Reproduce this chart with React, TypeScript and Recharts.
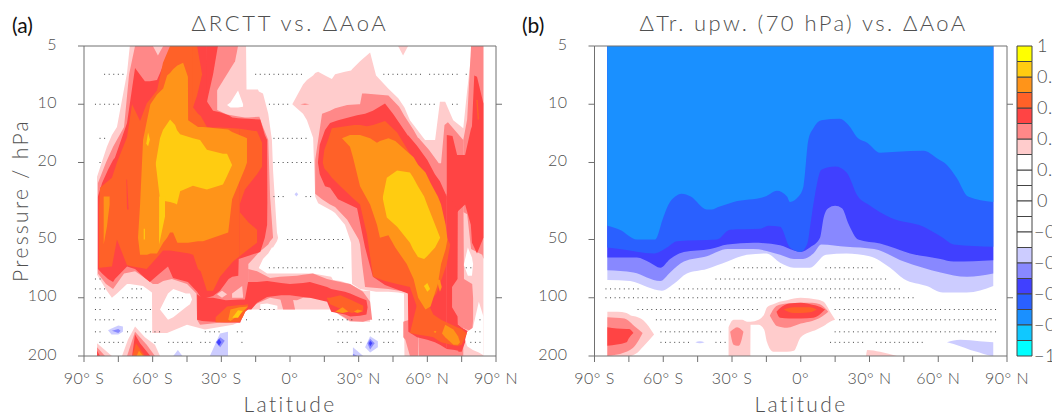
import { Area, Bar, BarChart, ComposedChart, Scatter, XAxis, YAxis } from "recharts";

type Row = [number, number, number];

const YELLOW = "#ffff00";
const GOLD = "#ffcc11";
const ORANGE = "#ff9419";
const DKORANGE = "#ff6128";
const RED = "#ff4444";
const SALMON = "#ff8888";
const PINK = "#ffcccc";
const WHITE = "#ffffff";
const LAVENDER = "#ccccff";
const PERI = "#8888ff";
const BLUE = "#4040ff";
const ROYAL = "#2a60ff";
const DODGER = "#1a90ff";
const SKY = "#10c8ff";
const CYAN = "#00ffff";

const latTicks = [-90, -75, -60, -45, -30, -15, 0, 15, 30, 45, 60, 75, 90];
const pressureTicks = [5, 10, 20, 50, 100, 200];
const sideTicks = [10, 100];
const barTicks = [-1, -0.8, -0.6, -0.4, -0.2, 0, 0.2, 0.4, 0.6, 0.8, 1];
const barUp = [WHITE, WHITE, WHITE, PINK, SALMON, RED, DKORANGE, ORANGE, GOLD, YELLOW];
const barDown = [WHITE, WHITE, WHITE, LAVENDER, PERI, BLUE, ROYAL, DODGER, SKY, CYAN];

// panel (a): each row is latitude, upper pressure, lower pressure
const aPinkSouth: Row[] = [
  [-84.3, 23.7, 76], [-80, 16.6, 92], [-77.8, 14.4, 100], [-75.6, 13.1, 95], [-71.2, 6.9, 85], [-70, 5, 85],
  [-64.2, 5, 87], [-60.3, 5, 94], [-60.2, 5, 152], [-53.7, 5, 152], [-45, 5, 138], [-37.2, 5, 146], [-24.9, 5, 138],
  [-21.8, 5, 133], [-19.7, 5, 118], [-19.2, 5, 115], [-19, 8.4, 115], [-14, 8.4, 115], [-13.6, 8.6, 70],
  [-11.8, 8.8, 63], [-9.5, 11.2, 59], [-7.9, 15.3, 55], [-7.4, 22, 55], [-5.7, 46, 51], [-5.2, 49, 49],
];
const aPinkBand: Row[] = [
  [-14, 70, 115], [-13, 71, 115], [-10, 75, 115], [10, 75, 115], [18, 78, 115], [18.8, 81, 116], [22, 82, 124],
  [26.2, 85, 133], [31.9, 92, 133], [35, 92, 133],
];
const aPinkNorth: Row[] = [
  [1, 10, 10], [5.7, 7.9, 11.2], [7.4, 7.5, 12.1], [10.1, 7.1, 14.9], [11, 6.9, 30], [12.3, 6.8, 32.5], [15.3, 7.1, 34],
  [18.3, 7.4, 35.5], [19.7, 7, 36.5], [24, 6.8, 42], [26.7, 6.7, 52], [27.1, 6.6, 85], [30.6, 6, 90], [35, 5.4, 92],
  [37.6, 7.1, 93], [42.9, 8.3, 93], [47.3, 9.3, 94], [49.8, 10.3, 95], [50, 10.4, 200], [52.4, 12.1, 200], [59, 15.3, 200],
  [63.4, 15.3, 200], [65.5, 9.7, 200], [67.8, 9.7, 200], [71.3, 12.1, 200], [75.7, 13.3, 200], [77.4, 8.5, 200],
  [79.6, 5, 200], [84.5, 5, 200],
];
const aPinkTip: Row[] = [[47.2, 5, 5], [49.4, 5, 5.6], [51.6, 5, 5]];
const aPinkPeak: Row[] = [[-73.4, 200, 200], [-70.8, 165, 200], [-67.7, 141, 200], [-63.4, 160, 200], [-59, 175, 200], [-56.8, 200, 200]];
const aPinkCorner: Row[] = [[-84.3, 172, 200], [-77.8, 200, 200]];
const aHoleTop: Row[] = [[-27.5, 10.1, 10.1], [-26, 9.8, 10.4], [-22.7, 8.5, 10.4], [-20.5, 10, 10.3]];
const aHoleMid: Row[] = [[-56.8, 115, 115], [-53.3, 95, 130], [-51, 90, 126], [-45.5, 95, 112], [-43.7, 95, 108], [-42.8, 102, 102]];
const aHoleBand: Row[] = [[-13, 108, 115], [-10, 107, 115], [-5.5, 110, 115]];
const aHoleGap: Row[] = [[76, 67, 68], [77.7, 55, 77], [79.5, 62, 77], [80, 67, 67]];
const aHoleRight: Row[] = [[76.5, 165, 165], [77.4, 150, 178], [79.9, 143, 186], [82.5, 105, 192], [84.5, 125, 198]];

const aSalmonSouth: Row[] = [
  [-83.9, 25.5, 75], [-80.4, 20, 85], [-77.3, 16.6, 90], [-72.5, 13.1, 75], [-70.3, 7, 74], [-67.7, 5, 73], [-64.2, 5, 78],
  [-59.9, 5, 85], [-57.7, 5.6, 85], [-55.4, 5, 82], [-51.6, 5, 80], [-45, 5, 85], [-40.9, 5, 95], [-40.6, 5, 130],
  [-39.3, 5, 138], [-31.9, 5, 135], [-31.8, 10.7, 135], [-27.5, 11.3, 135], [-21.8, 11.6, 135], [-19.7, 11.7, 118],
  [-18.3, 11.7, 115], [-18.2, 11.7, 67], [-13.4, 11.6, 58], [-11.8, 13.1, 56], [-9.5, 15.3, 53], [-8.7, 30, 51], [-7.4, 49, 49],
];
const aSalmonLobe: Row[] = [[-31.9, 5, 8.5], [-24, 5, 6], [-22.7, 5, 5]];
const aSalmonBand: Row[] = [
  [-18.3, 71, 115], [-14.4, 73, 107], [-8.7, 79, 100], [-4.4, 78, 102], [3, 77, 103], [5.7, 76, 100], [10, 75, 100],
  [16.2, 80, 102], [18, 81, 115], [24, 84, 127], [26.3, 85, 132], [31.9, 93, 133], [35, 105, 130], [35.9, 130, 130],
];
const aSalmonBandPatch: Row[] = [[-4.4, 100, 100], [-3, 100, 115], [1.3, 102, 115], [2.2, 115, 115]];
const aPinkPatch: Row[] = [[-25.3, 95, 100], [-20.9, 87, 100], [-20.5, 98, 100]];
const aPinkDiamond: Row[] = [[-31.9, 96, 96], [-29.7, 92, 100], [-27.5, 96, 96]];
const aSalmonPeak: Row[] = [[-71.2, 200, 200], [-67.7, 150, 200], [-62.6, 175, 200], [-59, 200, 200]];
const aSalmonCorner: Row[] = [[-84.3, 180, 200], [-80.8, 200, 200]];
const aSalmonNorth: Row[] = [
  [11, 19.4, 29], [14, 11.2, 31], [17.5, 10.8, 33], [19.7, 10.5, 34], [25, 10.1, 39.5], [30, 10, 50], [30.6, 10, 53],
  [31.5, 8.8, 67], [32.8, 8.8, 88], [43, 9, 90], [47.7, 10.3, 92], [50, 11.5, 92], [54, 13.6, 100], [55.9, 14.9, 126],
  [56.3, 15, 200], [60.7, 17.2, 200], [65, 20.2, 200], [66, 20.2, 200], [67.5, 12.8, 200], [69, 12.4, 200], [75.7, 15.3, 200],
];
const aSalmonStem: Row[] = [[49.5, 133, 160], [50.4, 132, 165], [52.4, 130, 200], [56, 126, 200]];
const aSalmonTower: Row[] = [[75.7, 15.3, 36], [77.4, 12, 37], [79.1, 5, 56], [84, 5, 60], [84.5, 5, 63]];
const aSalmonSpike: Row[] = [[4.5, 10, 10], [6.5, 9.9, 10.1], [8.5, 10, 10]];

const aRedSouth: Row[] = [
  [-83.9, 30, 71], [-82.1, 25.5, 75], [-79.5, 21.8, 80], [-77.3, 19.4, 83], [-76.5, 18.9, 80], [-71.2, 12.5, 69],
  [-67.7, 6.5, 71], [-63.4, 7.6, 79], [-61.2, 7.6, 83], [-58.1, 7.5, 77], [-54.6, 6, 71], [-53.3, 5.6, 69], [-51.1, 5, 79],
  [-44.6, 5, 83], [-40.6, 5, 93], [-38.4, 5, 102], [-36.3, 5, 100], [-36.2, 9.7, 100], [-33.6, 10.8, 98], [-30.6, 11, 92],
  [-26.8, 11.4, 80], [-25.2, 11.7, 78], [-22.6, 11.8, 77], [-22.4, 11.8, 63], [-13, 12, 58], [-11, 14.4, 49], [-10, 15.3, 42], [-9.9, 32, 32],
];
const aRedLobe: Row[] = [[-36.3, 5, 9.7], [-33.6, 5, 7], [-31.5, 5, 5]];
const aRedBand: Row[] = [
  [-40.6, 96, 130], [-38.4, 100, 132], [-33.6, 100, 133], [-28, 103, 134], [-21.8, 102, 134], [-19.7, 102, 118],
  [-18.3, 83, 115], [-16.9, 83, 115], [-14.4, 83, 106], [-10, 82, 99], [-3.9, 84, 97], [0, 85, 97], [5.7, 84, 99], [8.7, 83, 100],
  [16.2, 88, 105], [18, 90, 118], [24, 93, 122], [26.3, 95, 125], [30.6, 100, 124], [33.4, 103, 122], [33.9, 112, 112],
];
const aRedSliver: Row[] = [[-71.5, 24.5, 24.5], [-71.2, 24.5, 35], [-70.5, 35, 35]];
const aRedPeak: Row[] = [[-69, 200, 200], [-67.7, 155, 200], [-65.5, 172, 200], [-61, 200, 200]];
const aRedCorner: Row[] = [[-84.3, 188, 200], [-83, 200, 200]];
const aRedNorth: Row[] = [
  [12.2, 20, 20], [13, 16.2, 23], [15.3, 13.6, 26.5], [17.5, 12.5, 27], [21, 12.1, 31], [29.3, 11.4, 34.5], [32.8, 11.2, 55],
  [36.2, 10.8, 78], [41.5, 9.9, 86], [45, 11.2, 89], [51.5, 14.5, 95], [51.7, 14.5, 150], [55.5, 16.4, 160],
  [60, 19.4, 165], [63.3, 23, 170], [65.5, 25, 175], [68.5, 30, 184],
];
const aRedTower: Row[] = [
  [68.5, 14.4, 31], [71, 14.6, 33], [73, 18.3, 36], [76.5, 18.3, 33], [79, 13.5, 42], [79.5, 13, 52], [80.5, 7.1, 55],
  [81.7, 7.2, 59], [84.5, 9.9, 49],
];
const aRedLow: Row[] = [[68.5, 29, 184], [72, 33, 186], [73.5, 36, 188], [73.6, 138, 190], [75, 143, 190], [76.5, 146, 170], [78, 150, 150]];
const aSalmonRight: Row[] = [[70.8, 88, 112], [73.2, 80, 125], [73.3, 36, 138], [75.7, 36, 143], [76, 80, 144], [79.6, 85, 150], [80, 100, 130]];

const aOrangeDarkSouth: Row[] = [
  [-83.4, 35, 70], [-83, 27, 70], [-77.8, 24, 69], [-75.6, 20, 50], [-71.2, 14.8, 68], [-69, 10, 69], [-65.5, 12.2, 70],
  [-62.6, 9.9, 71], [-58.1, 8.5, 62], [-55.5, 6.1, 57], [-52.4, 5, 57], [-44, 5, 59], [-42.4, 5, 60], [-42.3, 10.4, 60],
  [-40.2, 11.2, 71], [-39, 11.5, 73], [-36.3, 13.1, 92], [-33.6, 13.2, 92], [-30.6, 13.2, 78], [-24.9, 13.3, 65], [-22, 13.4, 61],
];
const aOrangeDarkTop: Row[] = [[-42.4, 5, 10.4], [-40.6, 5, 9], [-38.4, 7, 7]];
const aOrangeDarkUpper: Row[] = [[-22, 13.4, 33], [-19.7, 13.5, 27.6], [-14.4, 13.8, 23], [-12.2, 15.8, 21]];
const aOrangeDarkLower: Row[] = [[-22, 36, 61], [-18, 41, 56], [-14.4, 44.5, 52]];
const aOrangeDarkLobe: Row[] = [[-32.5, 126, 134], [-27.5, 111, 134], [-22, 109, 133], [-20.5, 109, 125], [-18.3, 108, 110]];
const aOrangeDarkBand: Row[] = [[16, 100, 100], [17.5, 100, 108], [22, 97, 114], [27, 103, 120], [32, 110, 116]];
const aOrangeDarkPeak: Row[] = [[-68.6, 195, 200], [-67.3, 172, 200], [-63.4, 200, 200]];
const aOrangeDarkNorth: Row[] = [
  [14.3, 20, 20], [15, 17.2, 21.5], [16.6, 15.3, 22.5], [18.3, 13.3, 24], [22, 13.1, 26.5], [28, 12.8, 31], [30.6, 12.8, 33],
  [33.6, 13, 47], [36.3, 12.8, 78], [41.5, 12.2, 82], [46.8, 14, 85], [52.4, 18, 88], [55.5, 20.2, 112], [59.7, 23.5, 107],
  [62.5, 27.6, 100], [64, 33, 95], [65.5, 33, 85], [68.5, 49, 67], [70, 53, 53],
];
const aOrangeDarkLow: Row[] = [
  [52.4, 152, 152], [55.5, 108, 155], [60.5, 108, 158], [62.6, 122, 160], [66, 130, 170], [73, 142, 178], [75, 145, 175], [77.2, 153, 153],
];
const aOrangeDarkSliver: Row[] = [[81.4, 9.5, 9.5], [82, 9.5, 12], [82.6, 12, 12]];

const aOrangeSouth: Row[] = [
  [-66.4, 49, 49], [-65.5, 33, 60], [-64.2, 15.3, 60], [-62.4, 12, 60], [-61, 10, 59], [-58.1, 8.9, 59], [-55.4, 8.3, 52],
  [-53.7, 7.1, 49], [-52.4, 6.9, 46], [-51.1, 6.6, 46], [-49.2, 6.3, 52], [-46.7, 6.1, 52], [-44.6, 7.2, 52], [-44.5, 12.1, 52],
  [-40.2, 13.1, 51], [-38, 13.1, 51], [-27, 13.5, 46], [-25.3, 13.9, 31], [-19.7, 14.8, 21.5], [-18.8, 15, 20],
];
const aOrangeStrip: Row[] = [[-81.4, 30, 53], [-80, 30, 43], [-78.8, 30, 33]];
const aOrangeLobe: Row[] = [[-27, 130, 130], [-26, 115, 132], [-22, 112, 122], [-18.3, 111, 111]];
const aOrangeBandA: Row[] = [[19.7, 118, 118], [23, 112, 120], [25.5, 118, 118]];
const aOrangeBandB: Row[] = [[27.9, 118, 118], [29.5, 115, 120], [32, 117, 117]];
const aOrangePeak: Row[] = [[-67, 200, 200], [-66, 188, 200], [-64.2, 200, 200]];
const aOrangeNorth: Row[] = [
  [22.7, 15, 15], [26.2, 14.4, 16.6], [27.5, 14.4, 18.8], [30.6, 14.4, 26.5], [35, 15, 33], [38, 15.8, 42], [39.3, 15.5, 49],
  [43, 15, 47.5], [46, 15.5, 55], [51, 17.5, 67], [54, 18.8, 80], [56, 20.6, 100], [59.2, 22.5, 115], [61.4, 25.5, 111],
  [64.6, 30, 85], [66, 33, 67], [68, 42, 56], [68.8, 50, 50],
];
const aOrangeSpot: Row[] = [[64, 80, 80], [65.5, 81, 93], [66.3, 88, 88]];
const aOrangeLow: Row[] = [[66.4, 153, 153], [67.8, 138, 160], [71.4, 146, 175], [73.4, 158, 175], [74.3, 170, 170]];
const aOrangeDot: Row[] = [[62.8, 150, 150], [63.4, 148, 152], [64, 150, 150]];

const aGoldSouth: Row[] = [
  [-58.6, 20, 20.6], [-56.8, 15, 31], [-55.5, 13.6, 31.5], [-52.4, 12, 32], [-50.2, 12.8, 32.6], [-49.4, 13.6, 33],
  [-48, 14.3, 28.2], [-42.4, 15, 26.4], [-39.3, 15.3, 27], [-36.3, 17.2, 27.6], [-29.3, 18, 26], [-27.5, 18, 23.5], [-25.3, 20.6, 20.6],
];
const aGoldSliver: Row[] = [[-57.2, 30, 53], [-54.6, 30, 38]];
const aGoldThin: Row[] = [[-63.9, 44, 50], [-63.4, 44, 50]];
const aGoldDiamond: Row[] = [[-62.8, 16, 16], [-62, 14, 16.5], [-61.2, 15.2, 15.2]];
const aGoldLobe: Row[] = [[-25.2, 127, 127], [-22.7, 116, 127], [-20.7, 117, 117]];
const aGoldNorth: Row[] = [
  [40.6, 30, 31], [42.3, 24, 38.5], [46.8, 22, 43], [52.4, 22.5, 52], [53.7, 23.8, 56], [55.9, 26.5, 61.5], [58.6, 30, 63],
  [59.9, 33, 61], [63.4, 42, 55], [65.6, 49, 49],
];
const aGoldSpot: Row[] = [[58.5, 87, 87], [60, 84, 93], [61.2, 90, 90]];

const aLavA: Row[] = [[-79.5, 147, 147], [-78, 144, 155], [-75, 139, 155], [-73, 141, 150]];
const aPeriA: Row[] = [[-77.8, 148, 148], [-75, 145, 152], [-74, 148, 148]];
const aLavB: Row[] = [[-51, 200, 200], [-49, 186, 200], [-47, 200, 200]];
const aLavC: Row[] = [[-35, 200, 200], [-32.8, 175, 200], [-30.6, 153, 200], [-27.1, 150, 200]];
const aPeriC: Row[] = [[-32.5, 170, 170], [-30.5, 160, 180], [-28.5, 167, 167]];
const aBlueC: Row[] = [[-32, 170, 170], [-31, 163, 177], [-30, 170, 170]];
const aLavD: Row[] = [[32.8, 180, 180], [35, 158, 192], [38.4, 168, 180]];
const aPeriD: Row[] = [[33.8, 172, 172], [35, 163, 185], [37, 172, 172]];
const aBlueD: Row[] = [[34.5, 172, 172], [35, 167, 178], [36, 172, 172]];
const aLavE: Row[] = [[27.5, 180, 200], [32, 200, 200]];
const aPeriE: Row[] = [[27.5, 195, 200], [29.5, 200, 200]];
const aLavTiny: Row[] = [[2, 29.2, 29.2], [2.8, 28.5, 30], [3.6, 29.2, 29.2]];

// panel (b)
const bLavender: Row[] = [
  [-84.4, 5, 81], [-74.4, 5, 82], [-67, 5, 88], [-60.6, 5, 92], [-55.5, 5, 85], [-49.7, 5, 75], [-41, 5, 71], [-32, 5, 65],
  [-23.5, 5, 60], [-15, 5, 59], [-9, 5, 66], [-3, 5, 70], [4, 5, 70], [11, 5, 60], [20, 5, 59], [30, 5, 61], [39, 5, 70],
  [45, 5, 80], [55, 5, 87], [62, 5, 94], [72.5, 5, 94], [84, 5, 87],
];
const bPeri: Row[] = [
  [-84.4, 5, 72], [-73, 5, 74], [-61.3, 5, 82], [-57, 5, 74], [-51, 5, 65], [-41, 5, 61], [-32, 5, 56], [-20.6, 5, 56],
  [-9, 5, 60], [-3, 5, 63], [1, 5, 63], [5.5, 5, 59], [9, 5, 53], [20, 5, 54.5], [32, 5, 56], [45, 5, 65], [61, 5, 74],
  [72.5, 5, 78], [84, 5, 75],
];
const bBlue: Row[] = [
  [-84.4, 5, 62], [-71.5, 5, 62], [-65.7, 5, 66], [-61.3, 5, 70], [-57, 5, 63], [-51, 5, 58], [-39.5, 5, 56], [-32, 5, 53],
  [-20.6, 5, 52], [-9, 5, 53.5], [-3, 5, 57], [0, 5, 58], [4, 5, 55], [8.4, 5, 49], [10, 5, 38.5], [12, 5, 34.5], [15, 5, 33.5],
  [18, 5, 34.5], [21, 5, 42], [25, 5, 50], [34.6, 5, 52.5], [47.7, 5, 59], [61, 5, 63], [66.7, 5, 65], [84, 5, 64],
];
const bRoyal: Row[] = [
  [-84.4, 5, 55], [-79, 5, 56], [-64, 5, 59], [-58.4, 5, 55], [-54, 5, 51], [-36.6, 5, 50], [-30.8, 5, 44.5], [-17.7, 5, 44],
  [-14, 5, 42.5], [-9, 5, 43], [-4.7, 5, 55], [0, 5, 58], [3, 5, 52], [4, 5, 43.5], [5.5, 5, 33], [6.5, 5, 28], [9, 5, 21.8],
  [15, 5, 21], [20, 5, 22.5], [25, 5, 30], [29.5, 5, 33], [39, 5, 38.5], [53.6, 5, 43], [62, 5, 49], [66.7, 5, 53], [84, 5, 54.5],
];
const bDodger: Row[] = [
  [-84.4, 5, 42.5], [-79, 5, 44.5], [-71.5, 5, 50], [-63.5, 5, 50], [-60, 5, 38.5], [-57.7, 5, 33], [-54.8, 5, 30], [-52, 5, 29],
  [-48, 5, 30], [-41, 5, 35], [-38.8, 5, 35], [-36, 5, 34], [-29.3, 5, 32], [-15.5, 5, 30], [-10.4, 5, 28], [-6, 5, 30],
  [-4.7, 5, 32], [-1, 5, 30], [1.2, 5, 26.5], [3.3, 5, 15.3], [5.5, 5, 13.3], [9, 5, 12.1], [17, 5, 11.9], [20.8, 5, 12.8],
  [25, 5, 15], [29, 5, 15.8], [34.6, 5, 17.8], [42, 5, 17.6], [53.6, 5, 17.4], [59.4, 5, 19], [63.8, 5, 20.6], [68, 5, 24],
  [73, 5, 30], [84, 5, 32],
];
const bPinkLeft: Row[] = [
  [-84.4, 118, 200], [-80, 118, 200], [-76, 120, 200], [-74.4, 123, 200], [-72, 125, 195], [-68.6, 131, 178], [-64, 155, 155],
];
const bSalmonLeft: Row[] = [
  [-84.4, 126, 200], [-77, 128, 192], [-72, 142, 175], [-69, 152, 152],
];
const bRedLeft: Row[] = [[-84.4, 142, 177], [-76, 145, 170], [-75, 145, 162], [-73, 152, 152]];
const bPinkMid: Row[] = [
  [-31.5, 142, 200], [-29.3, 130, 200], [-25.6, 130, 200], [-23.5, 133, 200], [-22, 133, 200], [-21.9, 133, 138], [-18.4, 130, 138],
  [-16, 122, 146], [-14.7, 112, 170], [-12, 108, 190], [-10.4, 106, 190], [-6, 103, 190], [-3, 101, 188], [0, 100, 160],
  [7, 102, 146], [10, 105, 140], [12.8, 118, 133], [15, 130, 130],
];
const bSalmonSpot: Row[] = [[-30.8, 150, 150], [-29.3, 145, 175], [-27.8, 142, 177], [-27, 143, 177], [-25, 150, 150]];
const bSalmonMid: Row[] = [
  [-13.5, 124, 124], [-12, 115, 133], [-10.4, 110, 140], [-6, 107, 143], [0, 106, 136], [5, 106, 132], [8.4, 108, 127], [12, 118, 118],
];
const bRedMid: Row[] = [[-10.6, 118, 118], [-9, 113, 127], [-5, 107, 128], [0, 106, 128], [5.5, 109, 127], [7, 110, 125], [10.6, 115, 115]];
const bOrangeMid: Row[] = [[-7.5, 115, 115], [-3, 112, 120], [0, 112, 120], [4, 112, 119], [7, 115, 115]];
const bPinkNorth: Row[] = [[28.5, 200, 200], [29, 186, 200], [34.6, 190, 200], [42, 200, 200]];
const bLavNorth: Row[] = [[63.8, 170, 170], [69.6, 165, 178], [74, 166, 186], [78, 168, 192], [81, 169, 197], [84, 170, 200]];
const bLavTiny: Row[] = [[-46, 170, 170], [-44, 168, 172], [-42, 170, 170]];

const B = "          ";

const aDotPressures = [7, 10, 15, 20, 30, 50, 70, 80, 90, 100, 115, 130, 150, 170];
const aDotMasks = [
  ["    ..... ", B, B, "       ...", "........  ", B, "     .....", ".... .....", ".. .      "],
  ["  ......  ", B, B, B, ".....     ", B, B, " ......   ", "..        "],
  ["   ..     ", B, B, B, " ........ ", B, B, B, B],
  ["   .      ", B, B, B, " .........", B, B, B, B],
  [B, B, B, B, " ...    ..", B, B, B, B],
  [B, B, B, B, "    ......", ".......   ", B, B, B],
  [B, B, B, B, "..........", ".......   ", B, B, "   ..     "],
  ["  ..      ", B, B, B, B, B, B, B, B],
  ["  ...     ", "...       ", B, B, B, B, B, B, B],
  ["  ...   ..", "...      .", "..        ", B, B, B, B, B, B],
  ["  ..  ..  ", ".....   ..", ".         ", "        ..", "..        ", B, "      .   ", B, B],
  ["  .....   ", "....      ", B, "     .    ", B, "   ...... ", "    ....  ", B, "      .   "],
  ["  ..     .", "   ....   ", "      ....", "   ..     ", B, "     .....", "  ....... ", B, "     ..   "],
  ["   ...... ", "     .  ..", ".... ...  ", "    .     ", B, "     ... .", ".    ...  ", B, "    ...   "],
];

const bDotPressures = [70, 80, 90, 100, 115, 130, 150, 170];
const bDotMasks = [
  [B, B, B, "..........", ".         ", "..........", ".         ", B, B],
  [B, B, "      ....", "..........", "..........", "..........", "....      ", B, B],
  ["  ........", "        ..", "..........", "..........", "..........", "..........", ".......   ", B, B],
  ["  ........", "..... ....", "..........", "..........", ".         ", " .........", "..........", B, B],
  ["         .", "..........", "..........", "......    ", B, "  ........", "..........", "..........", "........  "],
  [B, "   .......", "......... ", B, B, "   .......", "..........", "..........", "........  "],
  [B, "    ......", "........  ", B, B, "  ........", "..........", "..........", "........  "],
  [B, "    ......", ".     ... ", B, B, " ........ ", " .........", "..        ", B],
];

const aLayers: [string, Row[]][] = [
  [PINK, aPinkSouth], [PINK, aPinkBand], [PINK, aPinkNorth], [PINK, aPinkTip], [PINK, aPinkPeak], [PINK, aPinkCorner],
  [WHITE, aHoleTop], [WHITE, aHoleMid], [WHITE, aHoleBand],
  [LAVENDER, aLavA], [PERI, aPeriA], [LAVENDER, aLavB], [LAVENDER, aLavC], [PERI, aPeriC], [BLUE, aBlueC],
  [LAVENDER, aLavD], [PERI, aPeriD], [BLUE, aBlueD], [LAVENDER, aLavE], [PERI, aPeriE], [LAVENDER, aLavTiny],
  [SALMON, aSalmonSouth], [SALMON, aSalmonLobe], [SALMON, aSalmonBand], [SALMON, aSalmonBandPatch], [SALMON, aSalmonPeak],
  [SALMON, aSalmonCorner], [SALMON, aSalmonNorth], [SALMON, aSalmonStem], [SALMON, aSalmonTower], [SALMON, aSalmonSpike],
  [PINK, aPinkPatch], [PINK, aPinkDiamond],
  [RED, aRedSouth], [RED, aRedLobe], [RED, aRedBand], [RED, aRedPeak], [RED, aRedCorner], [RED, aRedNorth], [RED, aRedTower], [RED, aRedLow],
  [SALMON, aSalmonRight], [WHITE, aHoleGap], [WHITE, aHoleRight],
  [DKORANGE, aOrangeDarkSouth], [DKORANGE, aOrangeDarkTop], [DKORANGE, aOrangeDarkUpper], [DKORANGE, aOrangeDarkLower],
  [DKORANGE, aOrangeDarkLobe], [DKORANGE, aOrangeDarkBand], [DKORANGE, aOrangeDarkPeak], [DKORANGE, aOrangeDarkNorth],
  [DKORANGE, aOrangeDarkLow], [DKORANGE, aOrangeDarkSliver], [RED, aRedSliver],
  [ORANGE, aOrangeSouth], [ORANGE, aOrangeStrip], [ORANGE, aOrangeLobe], [ORANGE, aOrangeBandA], [ORANGE, aOrangeBandB],
  [ORANGE, aOrangePeak], [ORANGE, aOrangeNorth], [ORANGE, aOrangeSpot], [ORANGE, aOrangeLow], [ORANGE, aOrangeDot],
  [GOLD, aGoldSouth], [GOLD, aGoldSliver], [GOLD, aGoldThin], [GOLD, aGoldDiamond], [GOLD, aGoldLobe], [GOLD, aGoldNorth], [GOLD, aGoldSpot],
];

const bLayers: [string, Row[]][] = [
  [LAVENDER, bLavender], [PERI, bPeri], [BLUE, bBlue], [ROYAL, bRoyal], [DODGER, bDodger],
  [PINK, bPinkLeft], [SALMON, bSalmonLeft], [RED, bRedLeft],
  [PINK, bPinkMid], [SALMON, bSalmonSpot], [SALMON, bSalmonMid], [RED, bRedMid], [DKORANGE, bOrangeMid],
  [PINK, bPinkNorth], [LAVENDER, bLavNorth], [LAVENDER, bLavTiny],
];

const FONT = "Lato, 'Open Sans', sans-serif";
const INK = "#505050";
const AXIS = "#707070";

function dotsFrom(pressures: number[], masks: string[][]) {
  const out: { lat: number; p: number }[] = [];
  masks.forEach((groups, r) => {
    groups.join("").split("").forEach((c, i) => {
      if (c === ".") out.push({ lat: -89 + 2 * i, p: pressures[r] });
    });
  });
  return out;
}

function latLabel(lat: number) {
  if (lat % 30 !== 0) return "";
  if (lat === 0) return "0°";
  return lat < 0 ? `${-lat}° S` : `${lat}° N`;
}

const tickStyle = { fontFamily: FONT, fontSize: 16, fontWeight: 300, fill: INK, letterSpacing: 0.5 };

function BarTick({ x, y, payload }: any) {
  const v = payload.value;
  return (
    <text x={v < 0 ? x - 7 : x - 4} y={y} dy={6} style={{ ...tickStyle, fontSize: 18 }}>
      {String(v).replace("-", "\u2212")}
    </text>
  );
}

function Panel({ layers, dots, width, left, right, curve }: any) {
  return (
    <ComposedChart width={width} height={416} margin={{ top: 30, right, bottom: 20, left }}>
      <XAxis xAxisId={0} dataKey="lat" type="number" domain={[-90, 90]} ticks={latTicks} interval={0} tickFormatter={latLabel}
        tick={tickStyle} tickSize={6} tickMargin={11} stroke={AXIS} height={40} allowDataOverflow />
      <XAxis xAxisId="top" orientation="top" type="number" domain={[-90, 90]} ticks={latTicks} interval={0} tickFormatter={() => ""}
        tickSize={6} stroke={AXIS} height={16} allowDataOverflow />
      <YAxis yAxisId={0} dataKey="p" type="number" scale="log" domain={[5, 200]} reversed ticks={pressureTicks} interval={0}
        tick={{ ...tickStyle, dy: -2 }} tickSize={6} tickMargin={21} stroke={AXIS} width={50} allowDataOverflow />
      <YAxis yAxisId="side" orientation="right" type="number" scale="log" domain={[5, 200]} reversed ticks={sideTicks} interval={0}
        tickFormatter={() => ""} tickSize={6} stroke={AXIS} width={20} allowDataOverflow />
      {layers.map(([color, rows]: [string, Row[]], i: number) => (
        <Area key={i} data={rows.map(([lat, top, bottom]) => ({ lat, range: [top, bottom] }))} dataKey="range" type={curve}
          fill={color} fillOpacity={1} stroke="none" dot={false} activeDot={false} isAnimationActive={false} />
      ))}
      <Scatter data={dots} fill="#444" isAnimationActive={false}
        shape={(s: any) => <rect x={s.cx - 0.5} y={s.cy - 0.5} width={1} height={1} fill="#444" />} />
    </ComposedChart>
  );
}

function ColorBar() {
  const row: Record<string, number | string> = { name: "scale" };
  barUp.forEach((_, i) => { row[`u${i}`] = 0.1; });
  barDown.forEach((_, i) => { row[`d${i}`] = -0.1; });
  return (
    <BarChart width={52} height={416} data={[row]} stackOffset="sign" barCategoryGap={0} margin={{ top: 46, right: 0, bottom: 60, left: 17 }}>
      <XAxis dataKey="name" hide />
      <YAxis orientation="right" type="number" domain={[-1, 1]} ticks={barTicks} interval={0} axisLine={false} tickLine={false}
        tickMargin={3} width={20} tick={<BarTick />} />
      {barUp.map((c, i) => (
        <Bar key={`u${i}`} dataKey={`u${i}`} stackId="s" fill={c} stroke="#444" strokeWidth={1} isAnimationActive={false} />
      ))}
      {barDown.map((c, i) => (
        <Bar key={`d${i}`} dataKey={`d${i}`} stackId="s" fill={c} stroke="#444" strokeWidth={1} isAnimationActive={false} />
      ))}
    </BarChart>
  );
}

const at = (left: number, top: number, extra: any = {}) => ({
  position: "absolute" as const, left, top, whiteSpace: "nowrap" as const, fontFamily: FONT, fontWeight: 300, color: INK, ...extra,
});

export default function App() {
  return (
    <div style={{ position: "absolute", left: 0, top: 0, width: 1052, height: 416, overflow: "hidden", background: "#fff" }}>
      <div style={{ position: "absolute", left: 0, top: 0 }}>
        <Panel layers={aLayers} dots={dotsFrom(aDotPressures, aDotMasks)} width={530} left={34} right={14} curve="linear" />
      </div>
      <div style={{ position: "absolute", left: 530, top: 0 }}>
        <Panel layers={bLayers} dots={dotsFrom(bDotPressures, bDotMasks)} width={500} left={14.5} right={3} curve="monotone" />
      </div>
      <div style={{ position: "absolute", left: 1000, top: 0 }}>
        <ColorBar />
      </div>
      <div style={at(12, 12, { fontSize: 21, fontWeight: 400, color: "#111" })}>(a)</div>
      <div style={at(522, 12, { fontSize: 21, fontWeight: 400, color: "#111" })}>(b)</div>
      <div style={at(190, 9, { fontSize: 22, letterSpacing: 2.7, width: 200, textAlign: "center" })}>ΔRCTT vs. ΔAoA</div>
      <div style={at(620, 9, { fontSize: 22, letterSpacing: 2.4, width: 367, textAlign: "center" })}>ΔTr. upw. (70 hPa) vs. ΔAoA</div>
      <div style={at(230, 391, { fontSize: 21, letterSpacing: 2.4, width: 120, textAlign: "center" })}>Latitude</div>
      <div style={at(741, 391, { fontSize: 21, letterSpacing: 2.4, width: 120, textAlign: "center" })}>Latitude</div>
      <div style={at(-81, 188, { fontSize: 21, letterSpacing: 2.3, width: 200, textAlign: "center", transform: "rotate(-90deg)" })}>Pressure / hPa</div>
    </div>
  );
}
